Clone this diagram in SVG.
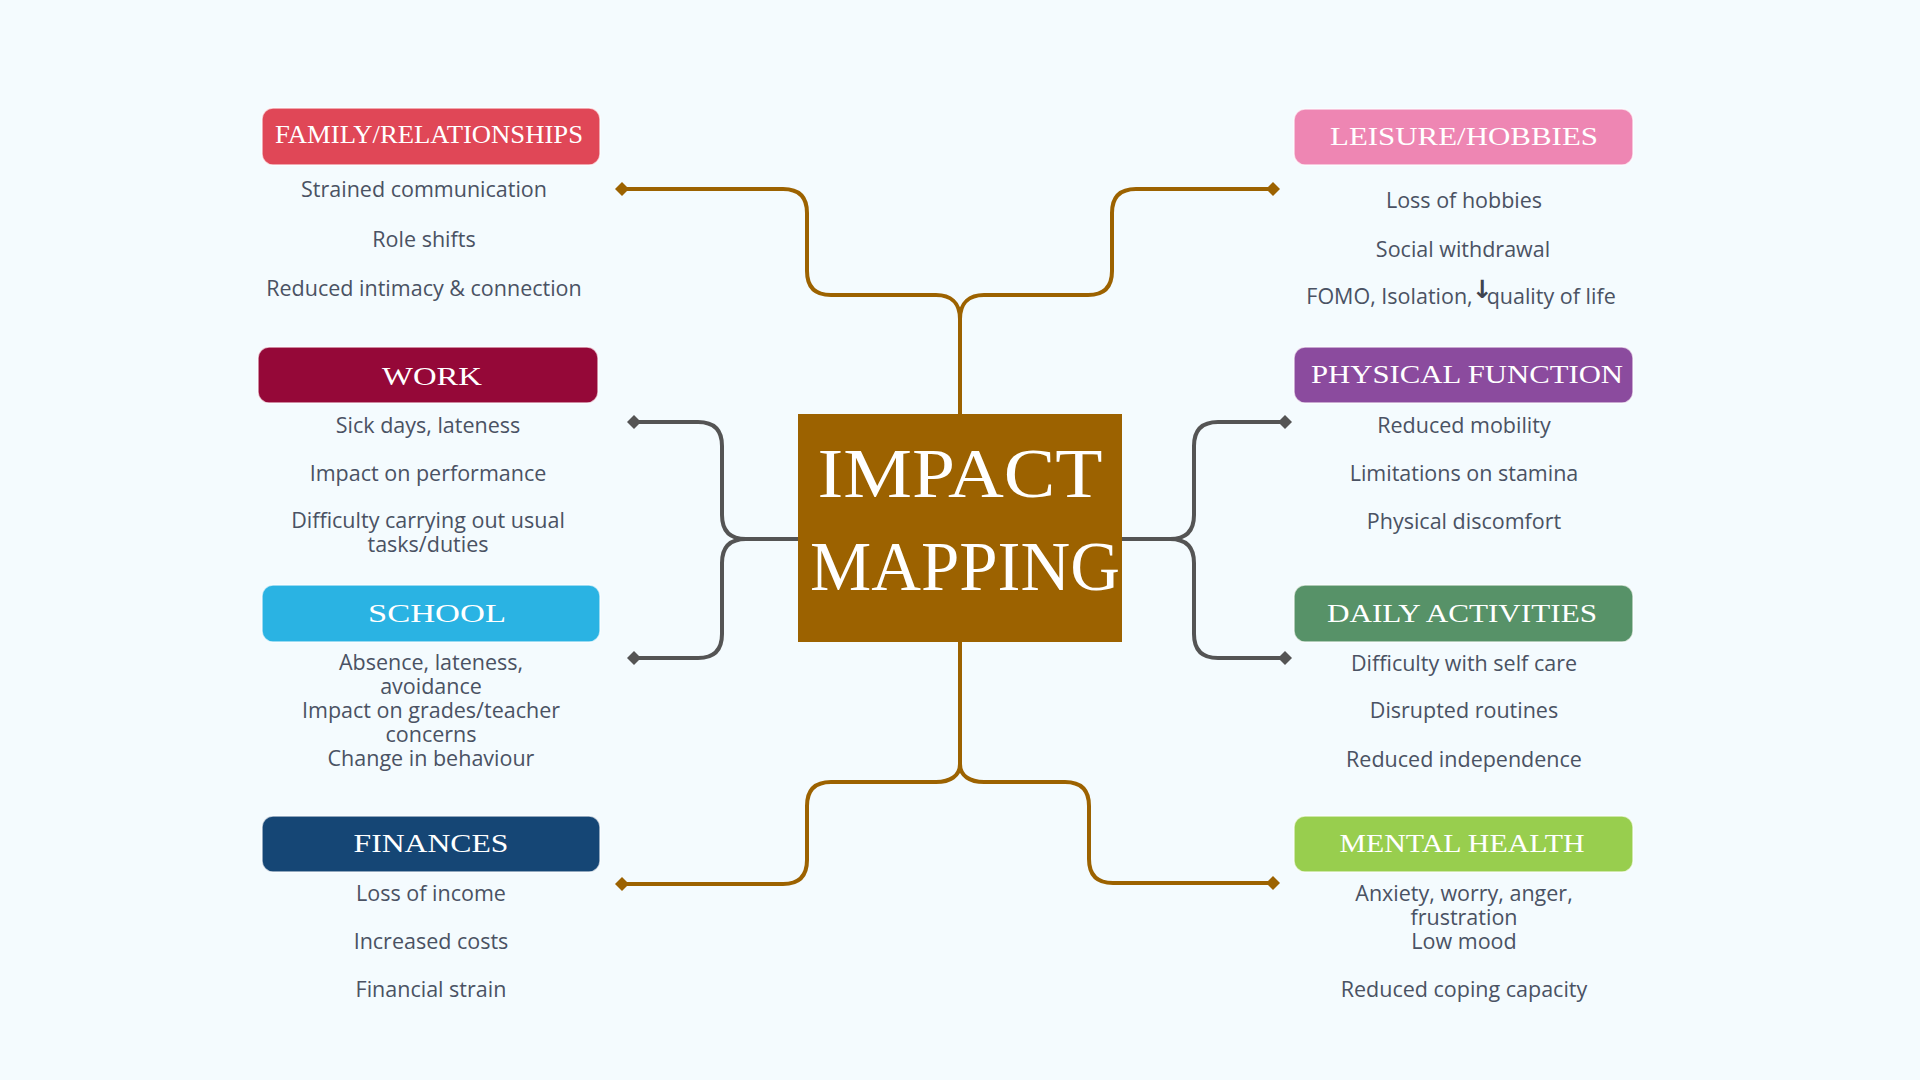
<svg xmlns="http://www.w3.org/2000/svg" width="1920" height="1080" viewBox="0 0 1920 1080">
<defs>
<style>
.hdr{font-family:"Liberation Serif","DejaVu Serif",serif;font-size:26px;fill:#ffffff;text-anchor:middle}
.itm{font-family:"Open Sans","Noto Sans",sans-serif;font-size:21.5px;fill:#4A5263;text-anchor:middle}
.box{stroke:#ffffff;stroke-opacity:0.7;stroke-width:1.5}
.brown{fill:none;stroke:#9C6200;stroke-width:4}
.gray{fill:none;stroke:#545454;stroke-width:4}
.title{font-family:"Liberation Serif","DejaVu Serif",serif;font-size:70px;fill:#ffffff;text-anchor:middle}
</style>
<marker id="dB" viewBox="-8 -8 16 16" markerWidth="16" markerHeight="16" markerUnits="userSpaceOnUse" refX="0" refY="0" orient="auto">
<path d="M-7,0 L0,-7 L7,0 L0,7 Z" fill="#9C6200"/>
</marker>
<marker id="dG" viewBox="-8 -8 16 16" markerWidth="16" markerHeight="16" markerUnits="userSpaceOnUse" refX="0" refY="0" orient="auto">
<path d="M-7,0 L0,-7 L7,0 L0,7 Z" fill="#545454"/>
</marker>
</defs>
<rect width="1920" height="1080" fill="#F4FBFE"/>

<g id="connectors">
<path class="brown" marker-end="url(#dB)" d="M960,414 V319 C960,302 950,295 936,295 H831 Q807,295 807,271 V213 Q807,189 783,189 H622"/>
<path class="brown" marker-end="url(#dB)" d="M960,319 C960,302 970,295 984,295 H1088 Q1112,295 1112,271 V213 Q1112,189 1136,189 H1273"/>
<path class="gray" marker-end="url(#dG)" d="M798,539 H746 Q722,539 722,515 V446 Q722,422 698,422 H634"/>
<path class="gray" marker-end="url(#dG)" d="M746,539 Q722,539 722,563 V634 Q722,658 698,658 H634"/>
<path class="gray" marker-end="url(#dG)" d="M1122,539 H1170 Q1194,539 1194,515 V446 Q1194,422 1218,422 H1285"/>
<path class="gray" marker-end="url(#dG)" d="M1170,539 Q1194,539 1194,563 V634 Q1194,658 1218,658 H1285"/>
<path class="brown" marker-end="url(#dB)" d="M960,642 V764 C960,776 950,782 936,782 H831 Q807,782 807,806 V860 Q807,884 783,884 H622"/>
<path class="brown" marker-end="url(#dB)" d="M960,764 C960,776 970,782 984,782 H1065 Q1089,782 1089,806 V859 Q1089,883 1113,883 H1273"/>
</g>

<g id="center">
<rect x="798" y="414" width="324" height="228" fill="#9C6200"/>
<text class="title" x="960" y="497" textLength="285" lengthAdjust="spacingAndGlyphs">IMPACT</text>
<text class="title" x="965" y="590" textLength="310" lengthAdjust="spacingAndGlyphs">MAPPING</text>
</g>

<g id="family">
<rect class="box" x="262" y="108" width="338" height="57" rx="11" fill="#E04757"/>
<text class="hdr" x="429" y="143" textLength="308" lengthAdjust="spacingAndGlyphs">FAMILY/RELATIONSHIPS</text>
<text class="itm" x="424" y="197">Strained communication</text>
<text class="itm" x="424" y="247">Role shifts</text>
<text class="itm" x="424" y="296">Reduced intimacy &amp; connection</text>
</g>

<g id="leisure">
<rect class="box" x="1294" y="109" width="339" height="56" rx="11" fill="#EE86B3"/>
<text class="hdr" x="1464" y="145" font-size="28" textLength="268" lengthAdjust="spacingAndGlyphs">LEISURE/HOBBIES</text>
<text class="itm" x="1464" y="208">Loss of hobbies</text>
<text class="itm" x="1463" y="257">Social withdrawal</text>
<text class="itm" x="1461" y="304">FOMO, Isolation,<tspan font-family="DejaVu Sans,sans-serif" font-weight="bold" font-size="25" fill="#3F4450" dy="-6" dx="-1">↓</tspan><tspan dy="6" dx="-6">quality of life</tspan></text>
</g>

<g id="work">
<rect class="box" x="258" y="347" width="340" height="56" rx="11" fill="#950838"/>
<text class="hdr" x="432" y="385" font-size="28" textLength="100" lengthAdjust="spacingAndGlyphs">WORK</text>
<text class="itm" x="428" y="433">Sick days, lateness</text>
<text class="itm" x="428" y="481">Impact on performance</text>
<text class="itm" x="428" y="528">Difficulty carrying out usual<tspan x="428" dy="24">tasks/duties</tspan></text>
</g>

<g id="physical">
<rect class="box" x="1294" y="347" width="339" height="56" rx="11" fill="#8B4B9E"/>
<text class="hdr" x="1467" y="383" textLength="312" lengthAdjust="spacingAndGlyphs">PHYSICAL FUNCTION</text>
<text class="itm" x="1464" y="433">Reduced mobility</text>
<text class="itm" x="1464" y="481">Limitations on stamina</text>
<text class="itm" x="1464" y="529">Physical discomfort</text>
</g>

<g id="school">
<rect class="box" x="262" y="585" width="338" height="57" rx="11" fill="#2AB3E3"/>
<text class="hdr" x="437" y="622" textLength="138" lengthAdjust="spacingAndGlyphs">SCHOOL</text>
<text class="itm" x="431" y="670">Absence, lateness,<tspan x="431" dy="24">avoidance</tspan></text>
<text class="itm" x="431" y="718">Impact on grades/teacher<tspan x="431" dy="24">concerns</tspan></text>
<text class="itm" x="431" y="766">Change in behaviour</text>
</g>

<g id="daily">
<rect class="box" x="1294" y="585" width="339" height="57" rx="11" fill="#579268"/>
<text class="hdr" x="1462" y="622" textLength="270" lengthAdjust="spacingAndGlyphs">DAILY ACTIVITIES</text>
<text class="itm" x="1464" y="671">Difficulty with self care</text>
<text class="itm" x="1464" y="718">Disrupted routines</text>
<text class="itm" x="1464" y="767">Reduced independence</text>
</g>

<g id="finances">
<rect class="box" x="262" y="816" width="338" height="56" rx="11" fill="#154675"/>
<text class="hdr" x="431" y="852" textLength="155" lengthAdjust="spacingAndGlyphs">FINANCES</text>
<text class="itm" x="431" y="901">Loss of income</text>
<text class="itm" x="431" y="949">Increased costs</text>
<text class="itm" x="431" y="997">Financial strain</text>
</g>

<g id="mental">
<rect class="box" x="1294" y="816" width="339" height="56" rx="11" fill="#98CE4E"/>
<text class="hdr" x="1462" y="852" textLength="245" lengthAdjust="spacingAndGlyphs">MENTAL HEALTH</text>
<text class="itm" x="1464" y="901">Anxiety, worry, anger,<tspan x="1464" dy="24">frustration</tspan></text>
<text class="itm" x="1464" y="949">Low mood</text>
<text class="itm" x="1464" y="997">Reduced coping capacity</text>
</g>
</svg>
